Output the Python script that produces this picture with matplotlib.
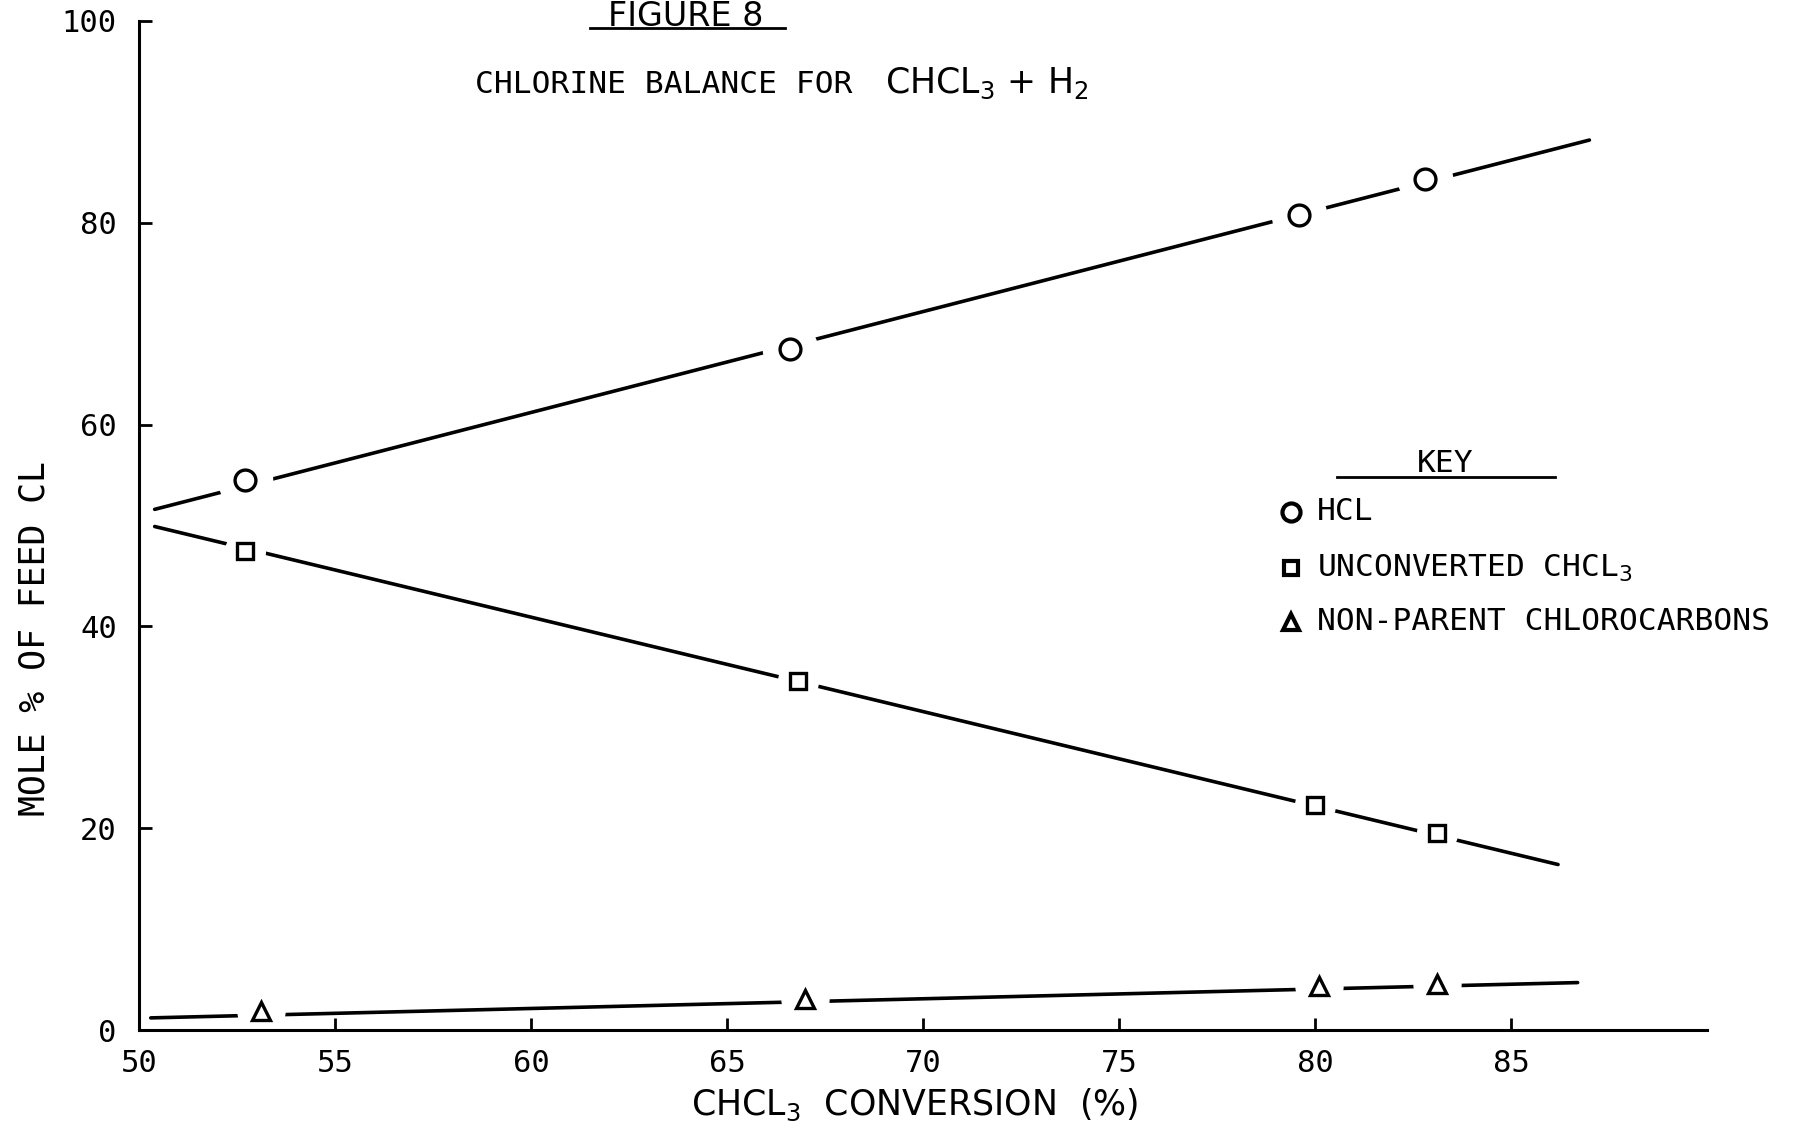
import matplotlib
matplotlib.use("Agg")
import matplotlib.pyplot as plt
from matplotlib.lines import Line2D

# values
conv_hcl = [52.7, 66.6, 79.6, 82.8]
hcl = [54.5, 67.5, 80.8, 84.3]
conv_chcl3 = [52.7, 66.8, 80.0, 83.1]
chcl3 = [47.5, 34.6, 22.3, 19.5]
conv_other = [53.1, 67.0, 80.1, 83.1]
other = [1.9, 3.1, 4.4, 4.6]

# hand drawn fit lines (start / end points)
fit_x_hcl = [50.4, 87.0]
fit_y_hcl = [51.6, 88.2]
fit_x_chcl3 = [50.4, 86.2]
fit_y_chcl3 = [49.9, 16.4]
fit_x_other = [50.3, 86.7]
fit_y_other = [1.2, 4.7]

xticks = [50, 55, 60, 65, 70, 75, 80, 85]
yticks = [0, 20, 40, 60, 80, 100]

plt.rcParams['font.family'] = ['DejaVu Sans Mono']
plt.rcParams['mathtext.fontset'] = 'dejavusans'

W, H = 1815, 1146
fig = plt.figure(figsize=(W / 100, H / 100), dpi=100)
ax = fig.add_axes([139 / W, 1 - 1030 / H, (1707 - 139) / W, (1030 - 21) / H])

def fx(x):
    return x / W

def fy(y):
    return 1 - y / H

series = [
    (conv_hcl, hcl, fit_x_hcl, fit_y_hcl, 'o', 15),
    (conv_chcl3, chcl3, fit_x_chcl3, fit_y_chcl3, 's', 11),
    (conv_other, other, fit_x_other, fit_y_other, '^', 13),
]
for xs, ys, lx, ly, m, ms in series:
    ax.plot(lx, ly, color='black', lw=2.6, solid_capstyle='round', zorder=2)
    # white halo so the line breaks around each point
    ax.plot(xs, ys, ls='none', marker='o', ms=ms * 2.6, color='white', zorder=3)
    ax.plot(xs, ys, ls='none', marker=m, ms=ms, mfc='white', mec='black', mew=2.4, zorder=4)

ax.set_xlim(50, 90)
ax.set_ylim(0, 100)
ax.spines['top'].set_visible(False)
ax.spines['right'].set_visible(False)
for s in ['left', 'bottom']:
    ax.spines[s].set_linewidth(2.2)
    ax.spines[s].set_zorder(10)

ax.set_xticks(xticks)
ax.set_yticks(yticks)
ax.set_xticklabels([str(t) for t in xticks])
ax.set_yticklabels([str(t) for t in yticks])
ax.tick_params(axis='both', direction='in', length=9, width=2, labelsize=22)
ax.tick_params(axis='x', pad=14)
ax.tick_params(axis='y', pad=16)

# title block
fig.text(fx(686), fy(16), 'FIGURE 8', ha='center', va='center', fontsize=24,
         family=['DejaVu Sans'])
fig.add_artist(Line2D([fx(590), fx(785)], [fy(28), fy(28)], color='black', lw=2))
fig.text(fx(475), fy(93), 'CHLORINE BALANCE FOR', ha='left', va='baseline', fontsize=22.5)
fig.text(fx(885), fy(93), r'CHCL$_3$ + H$_2$', ha='left', va='baseline', fontsize=25,
         family=['DejaVu Sans'])

# key
fig.text(fx(1445), fy(472), 'KEY', ha='center', va='baseline', fontsize=22.5)
fig.add_artist(Line2D([fx(1337), fx(1555)], [fy(477), fy(477)], color='black', lw=2))
key = [('o', 'HCL', 512, 13), ('s', r'UNCONVERTED CHCL$_3$', 568, 10),
       ('^', 'NON-PARENT CHLOROCARBONS', 622, 11)]
for m, lab, y, ms in key:
    fig.add_artist(Line2D([fx(1291)], [fy(y)], ls='none', marker=m, ms=ms,
                          mfc='white', mec='black', mew=3))
    fig.text(fx(1317), fy(y), lab, ha='left', va='center', fontsize=22.5)

# axis titles
fig.text(fx(35), fy(639), 'MOLE % OF FEED CL', rotation=90, ha='center', va='center',
         fontsize=25)
fig.text(fx(915), fy(1105), r'CHCL$_3$  CONVERSION  (%)', ha='center', va='center',
         fontsize=25, family=['DejaVu Sans'])

fig.savefig('out.png', dpi=100, facecolor='white')
